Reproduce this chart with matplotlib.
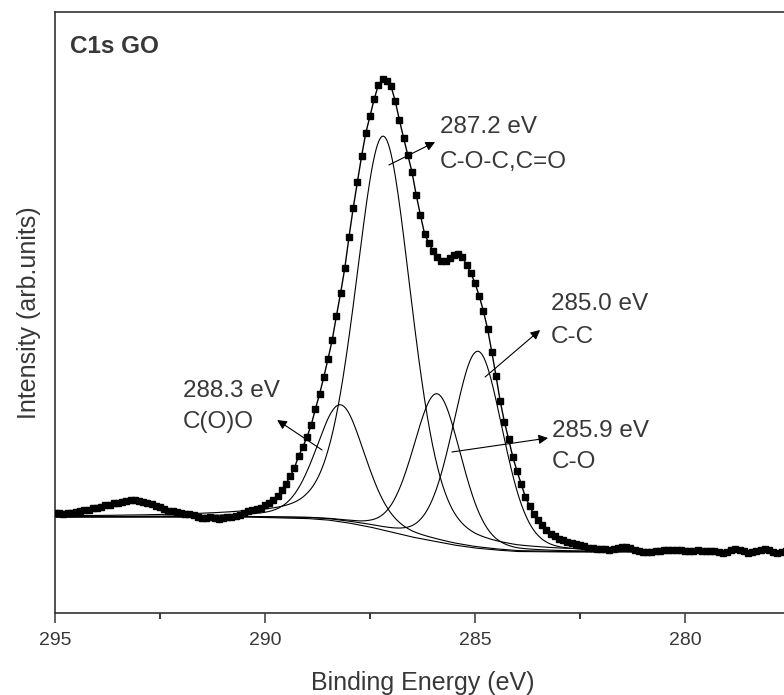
import numpy as np
import matplotlib
matplotlib.use("Agg")
import matplotlib.pyplot as plt
from matplotlib.ticker import MultipleLocator

plt.rcParams['font.family'] = ['Liberation Sans', 'DejaVu Sans']

# ---------------- data ----------------
# Binding energy grid of the measured spectrum: 295.0 -> 277.6 eV, 0.1 eV step
energy = np.round(np.linspace(295.0, 277.6, 175), 1)

# measured intensity (arb. units), same order as energy
intensity = [
    # 295.0 - 290.1
    100, 100, 99, 100, 100, 101, 102, 103, 103, 105,
    105, 106, 108, 108, 110, 110, 111, 112, 113, 113,
    112, 111, 110, 109, 107, 106, 104, 102, 102, 101,
    100, 99, 99, 98, 96, 95, 95, 96, 95, 94,
    95, 96, 96, 97, 98, 100, 102, 103, 104, 105,
    # 290.0 - 288.6
    108, 110, 113, 117, 123, 129, 137, 145, 157, 166,
    176, 188, 204, 219, 236,
    # 288.5 - 286.6
    254, 273, 297, 320, 345, 376, 405, 431, 457, 480,
    497, 514, 528, 534, 532, 527, 512, 493, 475, 458,
    # 286.5 - 285.1
    441, 418, 398, 379, 370, 362, 356, 352, 352, 355,
    358, 359, 356, 348, 340,
    # 285.0 - 282.5
    330, 317, 302, 284, 261, 237, 212, 191, 174, 156,
    142, 129, 116, 107, 99, 93, 88, 83, 79, 77,
    74, 73, 71, 70, 69, 68,
    # 282.4 - 277.6
    67, 65, 65, 64, 64, 64, 63, 64, 65, 66,
    66, 65, 63, 62, 61, 61, 61, 62, 62, 63,
    63, 63, 63, 63, 62, 62, 62, 63, 62, 62,
    62, 62, 61, 60, 61, 63, 64, 63, 62, 60,
    61, 62, 63, 64, 63, 61, 60, 61, 62,
]

# Shirley-type background, read at a few energies
bg_energy = [295.0, 290.5, 290.0, 289.0, 288.5, 288.0, 287.5, 287.0,
             286.5, 286.0, 285.5, 285.0, 284.5, 284.0, 283.0, 277.5]
bg_intensity = [96, 96, 95.5, 94.5, 93, 90, 86, 81,
                76, 72, 68, 65, 63, 61.5, 61, 61]

# fitted components: centre (eV), height above background, FWHM (eV), Lorentz fraction
comp_names = ["C-O-C,C=O", "C(O)O", "C-O", "C-C"]
comp_center = [287.18, 288.20, 285.90, 284.93]
comp_height = [394, 117, 148, 197]
comp_fwhm = [1.57, 1.38, 1.35, 1.40]
comp_mix = [0.30, 0.30, 0.20, 0.20]

# annotations
label_energy = ["287.2 eV", "288.3 eV", "285.9 eV", "285.0 eV"]
label_bond = ["C-O-C,C=O", "C(O)O", "C-O", "C-C"]

xticks = [295, 290, 285, 280]

# ---------------- figure ----------------
W, H = 784, 695
fig = plt.figure(figsize=(W / 100, H / 100), dpi=100)
ax = fig.add_axes([55 / W, (H - 613) / H, 735 / W, 601 / H])

txt_color = '#383838'

fine_e = np.linspace(295.0, 277.5, 1200)
bg_fine = np.interp(fine_e[::-1], bg_energy[::-1], bg_intensity[::-1])[::-1]


def pvoigt(e, c, h, w, m):
    x = (e - c) / (w / 2.0)
    g = np.exp(-np.log(2) * x ** 2)
    l = 1.0 / (1.0 + x ** 2)
    return h * ((1 - m) * g + m * l)


ax.plot(fine_e, bg_fine, color='black', lw=0.8, zorder=2)
for c, h, w, m in zip(comp_center, comp_height, comp_fwhm, comp_mix):
    ax.plot(fine_e, bg_fine + pvoigt(fine_e, c, h, w, m), color='black',
            lw=0.8, zorder=2)

ax.plot(energy, intensity, color='black', lw=1.0, marker='s', ms=4.6,
        mfc='black', mec='black', zorder=3)

ax.set_xlim(295.0, 277.5)
ax.set_ylim(0, 601)
ax.set_xticks(xticks)
ax.xaxis.set_minor_locator(MultipleLocator(2.5))
ax.set_yticks([])
ax.tick_params(axis='x', which='major', direction='out', length=7, width=1.1,
               pad=7, labelsize=14, colors=txt_color, top=False)
ax.tick_params(axis='x', which='minor', direction='out', length=4, width=1.1,
               top=False)
for s in ax.spines.values():
    s.set_linewidth(1.2)
    s.set_color('#333333')

ax.set_xlabel("Binding Energy (eV)", fontsize=18, color=txt_color)
ax.xaxis.set_label_coords(0.5, -0.097)
ax.xaxis.label.set_va('top')
ax.set_ylabel("Intensity (arb.units)", fontsize=18, color=txt_color)
ax.yaxis.set_label_coords(-0.019, 0.5)

ax.text(294.64, 560, "C1s GO", fontsize=17.5, fontweight='bold',
        color=txt_color, ha='left', va='baseline')

# text positions: (energy, intensity) of first-line baseline, second-line baseline
text_pos = [(285.83, 480, 445), (291.95, 216, 185), (283.17, 176, 145),
            (283.19, 303, 270)]
arrow_tail = [(287.05, 448), (288.64, 163), (285.55, 161), (284.76, 236)]
arrow_head = [(285.95, 471), (289.71, 193), (283.26, 175), (283.45, 283)]

for i in range(4):
    ex, y1, y2 = text_pos[i]
    ax.text(ex, y1, label_energy[i], fontsize=17.5, color=txt_color,
            ha='left', va='baseline')
    ax.text(ex, y2, label_bond[i], fontsize=17.5, color=txt_color,
            ha='left', va='baseline')
    ax.annotate("", xy=arrow_head[i], xytext=arrow_tail[i],
                arrowprops=dict(arrowstyle='-|>', color='black', lw=0.8,
                                mutation_scale=14, shrinkA=0, shrinkB=0))

fig.savefig("out.png", dpi=100)
